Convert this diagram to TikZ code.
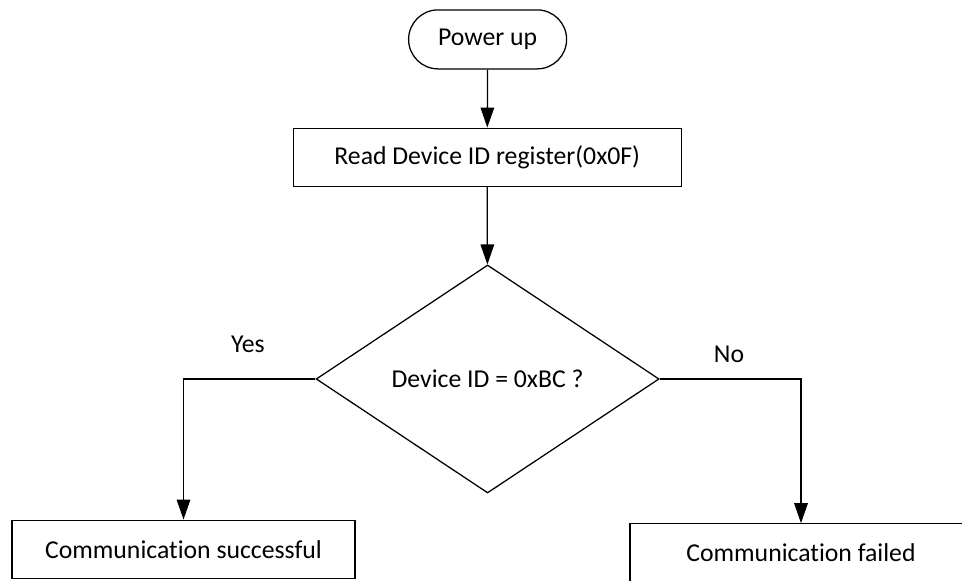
\documentclass[tikz,border=0pt]{standalone}
\usepackage{fontspec}
\setmainfont[Ligatures=NoCommon]{Carlito}
\usepackage{tikz}
\usetikzlibrary{arrows.meta}
\usetikzlibrary{shapes.geometric,shapes.misc}
\usetikzlibrary{positioning}
\tikzstyle{flow}=[->,>={Triangle[length=5mm,width=3.4mm]},line width=0.9pt]
\tikzstyle{term}=[rounded rectangle,draw,line width=0.9pt,minimum width=3.95cm,
                minimum height=1.475cm,inner sep=0]
\tikzstyle{proc}=[rectangle,draw,line width=0.9pt,minimum height=1.45cm,inner sep=0]
\tikzstyle{dec}=[diamond,draw,line width=0.9pt,minimum width=8.575cm,
                minimum height=5.7cm,inner sep=0]

\begin{document}
\begin{tikzpicture}[font=\fontsize{18.3}{22}\selectfont]
\useasboundingbox (0,0) rectangle (24.05,14.525);
\node[term] (pwr) at (12.19,13.54) {Power up};
\node[proc,minimum width=9.7cm] (rd) at (12.18,10.595) {Read Device ID register(0x0F)};
\node[dec] (chk) at (12.19,5.05) {Device ID = 0xBC ?};
\node[proc,minimum width=8.575cm] (ok) at (4.5875,0.795) {Communication successful};
\node[proc,minimum width=8.55cm] (fail) at (20.025,0.705) {Communication failed};
\node[anchor=base] (yes) at (6.2,5.7) {Yes};
\node[anchor=base] (no) at (18.225,5.45) {No};
\draw[flow] (pwr) -- (rd);
\draw[flow] (rd) -- (chk);
\draw[flow] (chk.west) -| (ok.north);
\draw[flow] (chk.east) -| (fail.north);
\end{tikzpicture}
\end{document}
